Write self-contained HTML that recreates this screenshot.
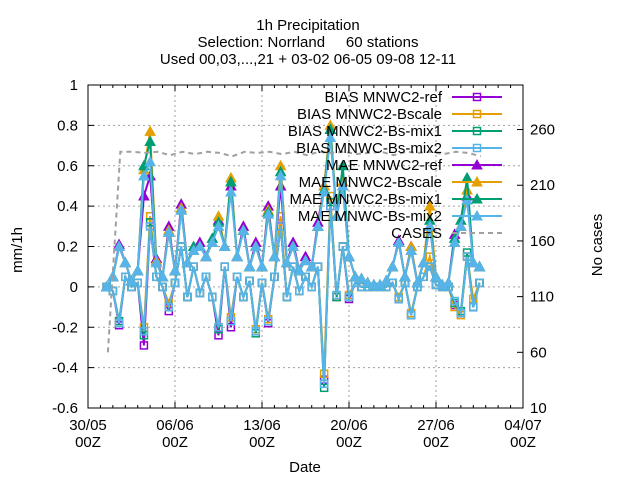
<!DOCTYPE html>
<html><head><meta charset="utf-8"><style>
html,body{margin:0;padding:0;background:#fff;}
svg{display:block;font-family:"Liberation Sans","DejaVu Sans",sans-serif;}
</style></head><body>
<svg id="chart" width="640" height="480" viewBox="0 0 640 480">
<rect width="640" height="480" fill="#fff"/>
<g font-size="15" text-anchor="middle" fill="#000">
<text x="308" y="30">1h Precipitation</text>
<text x="308" y="47" xml:space="preserve">Selection: Norrland     60 stations</text>
<text x="308" y="64">Used 00,03,...,21 + 03-02 06-05 09-08 12-11</text>
</g>
<g id="grid"></g>
<g id="axes"></g>
<g id="series"></g>
<g id="legend"></g>
<text x="305" y="472" font-size="15" text-anchor="middle">Date</text>
<text transform="translate(22,250) rotate(-90)" font-size="15" text-anchor="middle">mm/1h</text>
<text transform="translate(602,245) rotate(-90)" font-size="15" text-anchor="middle">No cases</text>
</svg>
<script>
const xTickLabels = ["30/05","06/06","13/06","20/06","27/06","04/07"];
const xTickDays = [0,7,14,21,28,35];
const yTicks = [-0.6,-0.4,-0.2,0,0.2,0.4,0.6,0.8,1];
const yTickLabels = ["-0.6","-0.4","-0.2","0","0.2","0.4","0.6","0.8","1"];
const y2Ticks = [10,60,110,160,210,260];
const seriesStartDay = 1.5;
const seriesStepDays = 0.5;
const maeRef = [0,0.05,0.21,0.12,0.03,0.08,0.45,0.55,0.14,0.05,0.3,0.08,0.41,0.12,0.18,0.22,0.15,0.22,0.33,0.2,0.5,0.15,0.3,0.1,0.22,0.1,0.4,0.15,0.5,0.12,0.22,0.08,0.15,0.1,0.32,0.5,0.78,0.35,0.5,0.15,0.05,0.04,0.02,0.01,0.01,0.03,0.1,0.23,0.05,0.2,0.02,0.12,0.3,0.05,0.01,0.02,0.26,0.3,0.45,0.12,0.1];
const maeBscale = [0,0.05,0.2,0.12,0.03,0.08,0.58,0.77,0.13,0.05,0.28,0.08,0.39,0.12,0.18,0.2,0.15,0.22,0.35,0.2,0.54,0.15,0.28,0.1,0.2,0.1,0.38,0.15,0.6,0.12,0.2,0.08,0.13,0.1,0.3,0.5,0.8,0.35,0.52,0.15,0.05,0.04,0.02,0.01,0.01,0.03,0.1,0.22,0.05,0.2,0.02,0.12,0.4,0.05,0.01,0.02,0.22,0.3,0.48,0.12,0.1];
const maeMix1 = [0,0.05,0.2,0.12,0.03,0.08,0.6,0.72,0.12,0.05,0.27,0.08,0.38,0.12,0.2,0.2,0.15,0.24,0.32,0.2,0.52,0.15,0.28,0.1,0.2,0.1,0.37,0.15,0.57,0.12,0.2,0.08,0.13,0.1,0.3,0.48,0.78,0.35,0.6,0.15,0.05,0.04,0.02,0.01,0.01,0.03,0.1,0.22,0.05,0.18,0.02,0.12,0.33,0.05,0.01,0.02,0.24,0.33,0.54,0.12,0.1];
const maeMix2 = [0,0.05,0.2,0.12,0.03,0.08,0.55,0.62,0.12,0.05,0.27,0.08,0.38,0.12,0.18,0.2,0.15,0.22,0.3,0.2,0.47,0.15,0.28,0.1,0.2,0.1,0.36,0.15,0.55,0.12,0.2,0.08,0.13,0.1,0.3,0.47,0.74,0.35,0.5,0.15,0.05,0.04,0.02,0.01,0.01,0.03,0.1,0.22,0.05,0.18,0.02,0.12,0.3,0.05,0.01,0.02,0.22,0.3,0.43,0.12,0.1];
const biasRef = [0,-0.02,-0.19,0.05,0,0.02,-0.29,0.3,0.05,0,-0.12,0.02,0.2,-0.05,0.1,-0.03,0.05,-0.05,-0.24,0.1,-0.2,0.05,-0.05,0.03,-0.22,0.02,-0.18,0.05,0.3,-0.05,0.1,-0.02,0.05,0,0.1,-0.46,0.4,-0.05,0.2,-0.06,0.02,0,0,0,0,0,0.02,-0.06,0.02,-0.14,0,0.05,0.1,0.01,0,0,-0.09,-0.13,0.15,-0.1,0.02];
const biasBscale = [0,-0.02,-0.17,0.05,0,0.02,-0.2,0.35,0.05,0,-0.08,0.02,0.2,-0.05,0.1,-0.03,0.05,-0.05,-0.2,0.1,-0.15,0.05,-0.05,0.03,-0.21,0.02,-0.16,0.05,0.35,-0.05,0.1,-0.02,0.05,0,0.1,-0.43,0.45,-0.05,0.2,-0.04,0.02,0,0,0,0,0,0.02,-0.05,0.02,-0.13,0,0.05,0.15,0.01,0,0,-0.1,-0.14,0.15,-0.06,0.02];
const biasMix1 = [0,-0.02,-0.17,0.05,0,0.02,-0.24,0.32,0.05,0,-0.1,0.02,0.2,-0.05,0.1,-0.03,0.05,-0.05,-0.21,0.1,-0.17,0.05,-0.05,0.03,-0.23,0.02,-0.17,0.05,0.3,-0.05,0.1,-0.02,0.05,0,0.1,-0.5,0.42,-0.05,0.2,-0.05,0.02,0,0,0,0,0,0.02,-0.06,0.02,-0.14,0,0.05,0.1,0.01,0,0,-0.08,-0.12,0.17,-0.1,0.02];
const biasMix2 = [0,-0.02,-0.18,0.05,0,0.02,-0.22,0.3,0.05,0,-0.1,0.02,0.2,-0.05,0.1,-0.03,0.05,-0.05,-0.2,0.1,-0.17,0.05,-0.05,0.03,-0.22,0.02,-0.17,0.05,0.3,-0.05,0.1,-0.02,0.05,0,0.1,-0.48,0.4,-0.04,0.2,-0.05,0.02,0,0,0,0,0,0.02,-0.06,0.02,-0.14,0,0.05,0.1,0.01,0,0,-0.07,-0.13,0.15,-0.1,0.02];
const casesStartDay = 1.6;
const cases = [60,240,240,239,240,237,240,238,240,239,236,240,239,240,238,240,237,240,239,240,238,239,240,237,240,239,240,238,240,239,236];

const NS = "http://www.w3.org/2000/svg";
const L=88,R=523,T=85,B=408;
const xs = d => L + (d/35)*(R-L);
const ys = v => B - (v+0.6)/1.6*(B-T);
const y2s = v => B - (v-10)/290*(B-T);
function mk(tag, attrs, parent){const e=document.createElementNS(NS,tag);for(const k in attrs)e.setAttribute(k,attrs[k]);parent.appendChild(e);return e;}
const grid=document.getElementById('grid'), axes=document.getElementById('axes'), ser=document.getElementById('series'), leg=document.getElementById('legend');

yTicks.forEach((v,i)=>{
  const y=ys(v);
  if(i>0&&i<yTicks.length-1){const g=mk('line',{x1:L,x2:R,y1:y,y2:y,stroke:'#a0a0a0','stroke-width':1,'stroke-dasharray':'2,3'},grid);
  
  }
  mk('line',{x1:L,x2:L+6,y1:y,y2:y,stroke:'#000'},axes);
  const t=mk('text',{x:L-10,y:y+5,'font-size':15,'text-anchor':'end'},axes);
  t.textContent=yTickLabels[i];
  
  
});
xTickDays.forEach((d,i)=>{
  const x=xs(d);
  if(i>0&&i<xTickDays.length-1){const g=mk('line',{x1:x,x2:x,y1:T,y2:B,stroke:'#a0a0a0','stroke-width':1,'stroke-dasharray':'2,3'},grid);
  
  }
  const t=mk('text',{x:x,y:430,'font-size':15,'text-anchor':'middle'},axes);
  t.textContent=xTickLabels[i];
  
  
  const t2=mk('text',{x:x,y:447,'font-size':15,'text-anchor':'middle'},axes);
  t2.textContent='00Z';
  
  
});
for(let d=0;d<=35;d++){const x=xs(d);const len=(d%7===0)?6:3;
  mk('line',{x1:x,x2:x,y1:B,y2:B-len,stroke:'#000'},axes);
  mk('line',{x1:x,x2:x,y1:T,y2:T+len,stroke:'#000'},axes);}
y2Ticks.forEach(v=>{const y=y2s(v);
  mk('line',{x1:R-6,x2:R,y1:y,y2:y,stroke:'#000'},axes);
  const t=mk('text',{x:R+7,y:y+5,'font-size':15},axes);
  t.textContent=String(v);
  
  
});
const frame=mk('rect',{x:L,y:T,width:R-L,height:B-T,fill:'none',stroke:'#000','stroke-width':1},axes);



function marker(kind,x,y,color,parent){
  if(kind==='sq'){return mk('rect',{x:x-3.5,y:y-3.5,width:7,height:7,fill:'none',stroke:color,'stroke-width':1.5},parent);}
  return mk('polygon',{points:`${x},${y-5} ${x-5},${y+4} ${x+5},${y+4}`,fill:color,stroke:color,'stroke-width':1},parent);
}
const seriesList=[
 ['bias-mnwc2-ref',biasRef,'#9400d3','sq','BIAS MNWC2-ref'],
 ['bias-mnwc2-bscale',biasBscale,'#e69f00','sq','BIAS MNWC2-Bscale'],
 ['bias-mnwc2-bs-mix1',biasMix1,'#009e73','sq','BIAS MNWC2-Bs-mix1'],
 ['bias-mnwc-bs-mix2',biasMix2,'#56b4e9','sq','BIAS MNWC-Bs-mix2'],
 ['mae-mnwc2-ref',maeRef,'#9400d3','tri','MAE MNWC2-ref'],
 ['mae-mnwc2-bscale',maeBscale,'#e69f00','tri','MAE MNWC2-Bscale'],
 ['mae-mnwc2-bs-mix1',maeMix1,'#009e73','tri','MAE MNWC2-Bs-mix1'],
 ['mae-mnwc-bs-mix2',maeMix2,'#56b4e9','tri','MAE MNWC-Bs-mix2']
];
seriesList.forEach(([name,arr,color,kind])=>{
  const g=mk('g',{},ser);
  
  
  const pts=arr.map((v,i)=>`${xs(seriesStartDay+i*seriesStepDays).toFixed(1)},${ys(v).toFixed(1)}`).join(' ');
  mk('polyline',{points:pts,fill:'none',stroke:color,'stroke-width':2},g);
  arr.forEach((v,i)=>{const m=marker(kind,xs(seriesStartDay+i*seriesStepDays),ys(v),color,g);
    
    });
});
const cg=mk('g',{},ser);


mk('polyline',{points:cases.map((v,i)=>`${xs(casesStartDay+i).toFixed(1)},${y2s(v).toFixed(1)}`).join(' '),fill:'none',stroke:'#a0a0a0','stroke-width':2,'stroke-dasharray':'5,4'},cg);

const legendRows=seriesList.map(s=>[s[4],s[2],s[3]]).concat([['CASES','#a0a0a0','dash']]);
legendRows.forEach(([label,color,kind],i)=>{
  const y=97+i*17;
  const g=mk('g',{},leg);
  
  
  const t=mk('text',{x:442,y:y+5,'font-size':15,'text-anchor':'end'},g);
  t.textContent=label;
  if(kind==='dash'){mk('line',{x1:452,x2:502,y1:y,y2:y,stroke:'#a0a0a0','stroke-width':2,'stroke-dasharray':'5,4'},g);}
  else{mk('line',{x1:452,x2:502,y1:y,y2:y,stroke:color,'stroke-width':2},g);marker(kind,477,y,color,g);}
});
</script>
</body></html>
